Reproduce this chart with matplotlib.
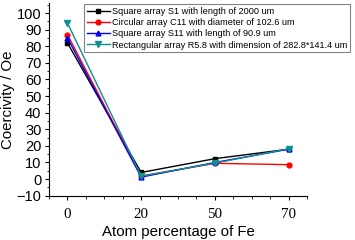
import matplotlib
matplotlib.use("Agg")
import matplotlib.pyplot as plt
from matplotlib.ticker import MultipleLocator

plt.rcParams['font.family'] = ['Liberation Sans', 'DejaVu Sans']

categories = ["0", "20", "50", "70"]
s1 = [82, 4, 12.3, 18]
c11 = [87, 1.8, 9.5, 8.7]
s11 = [85, 1.2, 10, 18]
r58 = [94, 1.8, 9.6, 18.3]

labels = ["Square array S1 with length of 2000 um",
          "Circular array C11 with diameter of 102.6 um",
          "Square array S11 with length of 90.9 um",
          "Rectangular array R5.8 with dimension of 282.8*141.4 um"]

fig = plt.figure(figsize=(3.55, 2.4), dpi=100)
ax = fig.add_axes([0.138, 0.1846, 0.727, 0.8025])
x = list(range(len(categories)))

ax.plot(x, s1, color='black', marker='s', ms=3.5, lw=1, label=labels[0])
ax.plot(x, c11, color='red', marker='o', ms=3.5, lw=1, label=labels[1])
ax.plot(x, s11, color='blue', marker='^', ms=3.5, lw=1, label=labels[2])
ax.plot(x, r58, color='#108f8f', marker='v', ms=4, lw=1, label=labels[3])

ax.set_xlim(-0.25, 3.25)
ax.set_ylim(-10, 106)
ax.set_xticks(x)
ax.set_xticklabels(categories, family=['Liberation Serif'], fontsize=10.8)
ax.xaxis.set_minor_locator(MultipleLocator(0.25))
ax.yaxis.set_major_locator(MultipleLocator(10))
ax.yaxis.set_minor_locator(MultipleLocator(5))
for s in ['top', 'right']:
    ax.spines[s].set_visible(False)
ax.tick_params(axis='y', which='major', labelsize=10.5)
ax.tick_params(axis='both', which='major', length=3, width=0.8, direction='out', pad=2.5)
ax.tick_params(axis='x', which='major', pad=6)
ax.tick_params(axis='both', which='minor', length=1.8, width=0.6, direction='out')
ax.set_xlabel("Atom percentage of Fe", fontsize=10.8, labelpad=3)
ax.set_ylabel("Coercivity / Oe", fontsize=10.8, labelpad=1)

leg = ax.legend(loc='upper right', bbox_to_anchor=(1.17, 1.0), fontsize=6.6,
                frameon=True, fancybox=False, edgecolor='#666666', handlelength=2.5,
                borderpad=0.3, labelspacing=0.25, handletextpad=0.25, borderaxespad=0.1)
leg.get_frame().set_linewidth(0.8)

fig.savefig("out.png", dpi=100)
